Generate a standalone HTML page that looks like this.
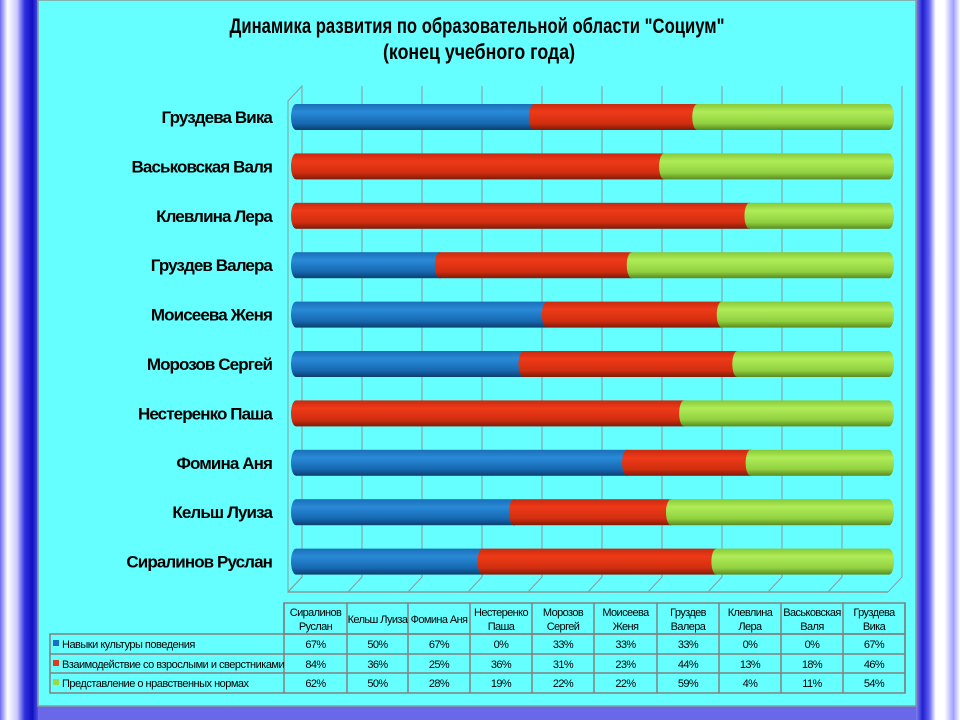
<!DOCTYPE html>
<html><head><meta charset="utf-8"><style>
html,body{margin:0;padding:0;width:960px;height:720px;overflow:hidden;background:#fff}
svg{display:block}
text{font-family:"Liberation Sans","DejaVu Sans",sans-serif}
</style></head><body>
<svg id="chart" width="960" height="720" viewBox="0 0 960 720" xmlns="http://www.w3.org/2000/svg">
<defs>
<linearGradient id="leftStripe" x1="0" x2="1" y1="0" y2="0">
<stop offset="0" stop-color="#6a6af0"/><stop offset="0.2" stop-color="#ffffff"/><stop offset="0.45" stop-color="#c8c8ff"/><stop offset="0.65" stop-color="#3030e0"/><stop offset="0.85" stop-color="#1010c0"/><stop offset="1" stop-color="#5050e8"/>
</linearGradient>
<linearGradient id="rightStripe" x1="0" x2="1" y1="0" y2="0">
<stop offset="0" stop-color="#8080f0"/><stop offset="0.15" stop-color="#2020d0"/><stop offset="0.3" stop-color="#6060f0"/><stop offset="0.45" stop-color="#ffffff"/><stop offset="0.65" stop-color="#ffffff"/><stop offset="0.85" stop-color="#a0a0ff"/><stop offset="1" stop-color="#ffffff"/>
</linearGradient>
<linearGradient id="gBlue" x1="0" x2="0" y1="0" y2="1"><stop offset="0" stop-color="#1a6fb8"/><stop offset="0.3" stop-color="#2a8ad8"/><stop offset="0.75" stop-color="#1668b0"/><stop offset="1" stop-color="#0c3e70"/></linearGradient>
<linearGradient id="gRed" x1="0" x2="0" y1="0" y2="1"><stop offset="0" stop-color="#c82a10"/><stop offset="0.3" stop-color="#ee3a18"/><stop offset="0.75" stop-color="#d02e10"/><stop offset="1" stop-color="#801a08"/></linearGradient>
<linearGradient id="gGreen" x1="0" x2="0" y1="0" y2="1"><stop offset="0" stop-color="#88c838"/><stop offset="0.3" stop-color="#b0ec58"/><stop offset="0.75" stop-color="#90d040"/><stop offset="1" stop-color="#5a8a20"/></linearGradient>
</defs>
<rect x="0" y="0" width="960" height="720" fill="#6868e8"/>
<rect x="0" y="0" width="38" height="720" fill="url(#leftStripe)"/>
<rect x="916" y="0" width="44" height="720" fill="url(#rightStripe)"/>
<rect x="38" y="0" width="878" height="706" fill="#66ffff" stroke="#8a9a9a" stroke-width="1.5"/>
<text x="477" y="33" text-anchor="middle" font-size="21" font-weight="bold" textLength="495" lengthAdjust="spacingAndGlyphs">Динамика развития по образовательной области "Социум"</text>
<text x="479" y="59" text-anchor="middle" font-size="21" font-weight="bold" textLength="192" lengthAdjust="spacingAndGlyphs">(конец  учебного года)</text>
<g id="grid"></g>
<g id="bars"></g>
<g id="labels"></g>
<g id="table"></g>
</svg>
<script>
const categories = ["Сиралинов Руслан","Кельш Луиза","Фомина Аня","Нестеренко Паша","Морозов Сергей","Моисеева Женя","Груздев Валера","Клевлина Лера","Васьковская Валя","Груздева Вика"];
const headerLabels = [["Сиралинов","Руслан"],["Кельш Луиза"],["Фомина Аня"],["Нестеренко","Паша"],["Морозов","Сергей"],["Моисеева","Женя"],["Груздев","Валера"],["Клевлина","Лера"],["Васьковская","Валя"],["Груздева","Вика"]];
const seriesNames = ["Навыки культуры поведения","Взаимодействие со взрослыми и сверстниками","Представление о нравственных нормах"];
const behavior = [67,50,67,0,33,33,33,0,0,67];
const interaction = [84,36,25,36,31,23,44,13,18,46];
const morals = [62,50,28,19,22,22,59,4,11,54];
const series = [behavior, interaction, morals];
const fills = ["url(#gBlue)","url(#gRed)","url(#gGreen)"];
const swatch = ["#1a70c0","#e03a18","#9ad848"];

const NS="http://www.w3.org/2000/svg";
function mk(tag, attrs, parent){const e=document.createElementNS(NS,tag);for(const k in attrs)e.setAttribute(k,attrs[k]);parent.appendChild(e);return e;}
const X0=296, XW=593;
function xScale(frac){return X0+frac*XW;}
const yTop=117, yStep=49.4;
function yScale(i){return yTop+(categories.length-1-i)*yStep;}

const grid=document.getElementById('grid');
const wallTop=86, wallBot=577, dx=14, dy=15;
let l=mk('path',{d:`M288 ${wallTop+dy} L302 ${wallTop} L302 ${wallBot} L288 ${wallBot+dy} Z`,fill:'none',stroke:'#8a9a9a','stroke-width':1},grid);


for(let i=0;i<=10;i++){
  const gx=302+60*i;
  const ln=mk('line',{x1:gx,y1:wallTop,x2:gx,y2:wallBot,stroke:'#8a9a9a','stroke-width':1},grid);
  
  
  const fl=mk('line',{x1:gx,y1:wallBot,x2:gx-dx,y2:wallBot+dy,stroke:'#8a9a9a','stroke-width':1},grid);
  
  
}
let fb=mk('line',{x1:288,y1:wallBot+dy,x2:302+600-dx,y2:wallBot+dy,stroke:'#8a9a9a','stroke-width':1.5},grid);



const bars=document.getElementById('bars');
const H=26, rx=5;
categories.forEach((c,i)=>{
  const tot=behavior[i]+interaction[i]+morals[i];
  let acc=0;
  const cy=yScale(i);
  const g=mk('g',{},bars);
  
  
  series.forEach((s,k)=>{
    const v=s[i]; if(v<=0) return;
    const a=xScale(acc/tot), b=xScale((acc+v)/tot); acc+=v;
    const seg=mk('g',{},g);
    
    
    mk('rect',{x:a,y:cy-H/2,width:b-a,height:H,fill:fills[k]},seg);
    mk('ellipse',{cx:b,cy:cy,rx:rx,ry:H/2,fill:fills[k]},seg);
    mk('ellipse',{cx:a,cy:cy,rx:rx,ry:H/2,fill:fills[k]},seg);
  });
  const lab=mk('text',{x:272,y:cy+6,'text-anchor':'end','font-size':17,'font-weight':'bold','letter-spacing':'-0.9'},document.getElementById('labels'));
  lab.textContent=c;
  
  
});

const tb=document.getElementById('table');
const colX=[284,347,408,470,532,594,657,719,781,843,905];
const rowY=[603,634,654,673,693];
const st={stroke:'#808080','stroke-width':1.5,fill:'none'};
mk('rect',{x:284,y:603,width:621,height:31,...st},tb);
mk('rect',{x:50,y:634,width:855,height:59,...st},tb);
for(let r=2;r<4;r++) mk('line',{x1:50,y1:rowY[r],x2:905,y2:rowY[r],stroke:'#808080','stroke-width':1.5},tb);
for(let c=0;c<colX.length;c++) mk('line',{x1:colX[c],y1:603,x2:colX[c],y2:693,stroke:'#808080','stroke-width':1.5},tb);
headerLabels.forEach((h,c)=>{
  const cx=(colX[c]+colX[c+1])/2;
  const ys = h.length===2?[616,630]:[623];
  h.forEach((t,j)=>{
    const e=mk('text',{x:cx,y:ys[j],'text-anchor':'middle','font-size':11,'letter-spacing':'-0.6'},tb);
    e.textContent=t;
    
    
  });
});
series.forEach((s,k)=>{
  const y=rowY[k+1]+14;
  mk('rect',{x:53,y:y-8,width:6,height:6,fill:swatch[k]},tb);
  const n=mk('text',{x:62,y:y,'font-size':11,'letter-spacing':'-0.5'},tb);
  n.textContent=seriesNames[k];
  
  
  s.forEach((v,c)=>{
    const e=mk('text',{x:(colX[c]+colX[c+1])/2,y:y,'text-anchor':'middle','font-size':11,'letter-spacing':'-0.6'},tb);
    e.textContent=v+'%';
    
    
  });
});
</script>
</body></html>
